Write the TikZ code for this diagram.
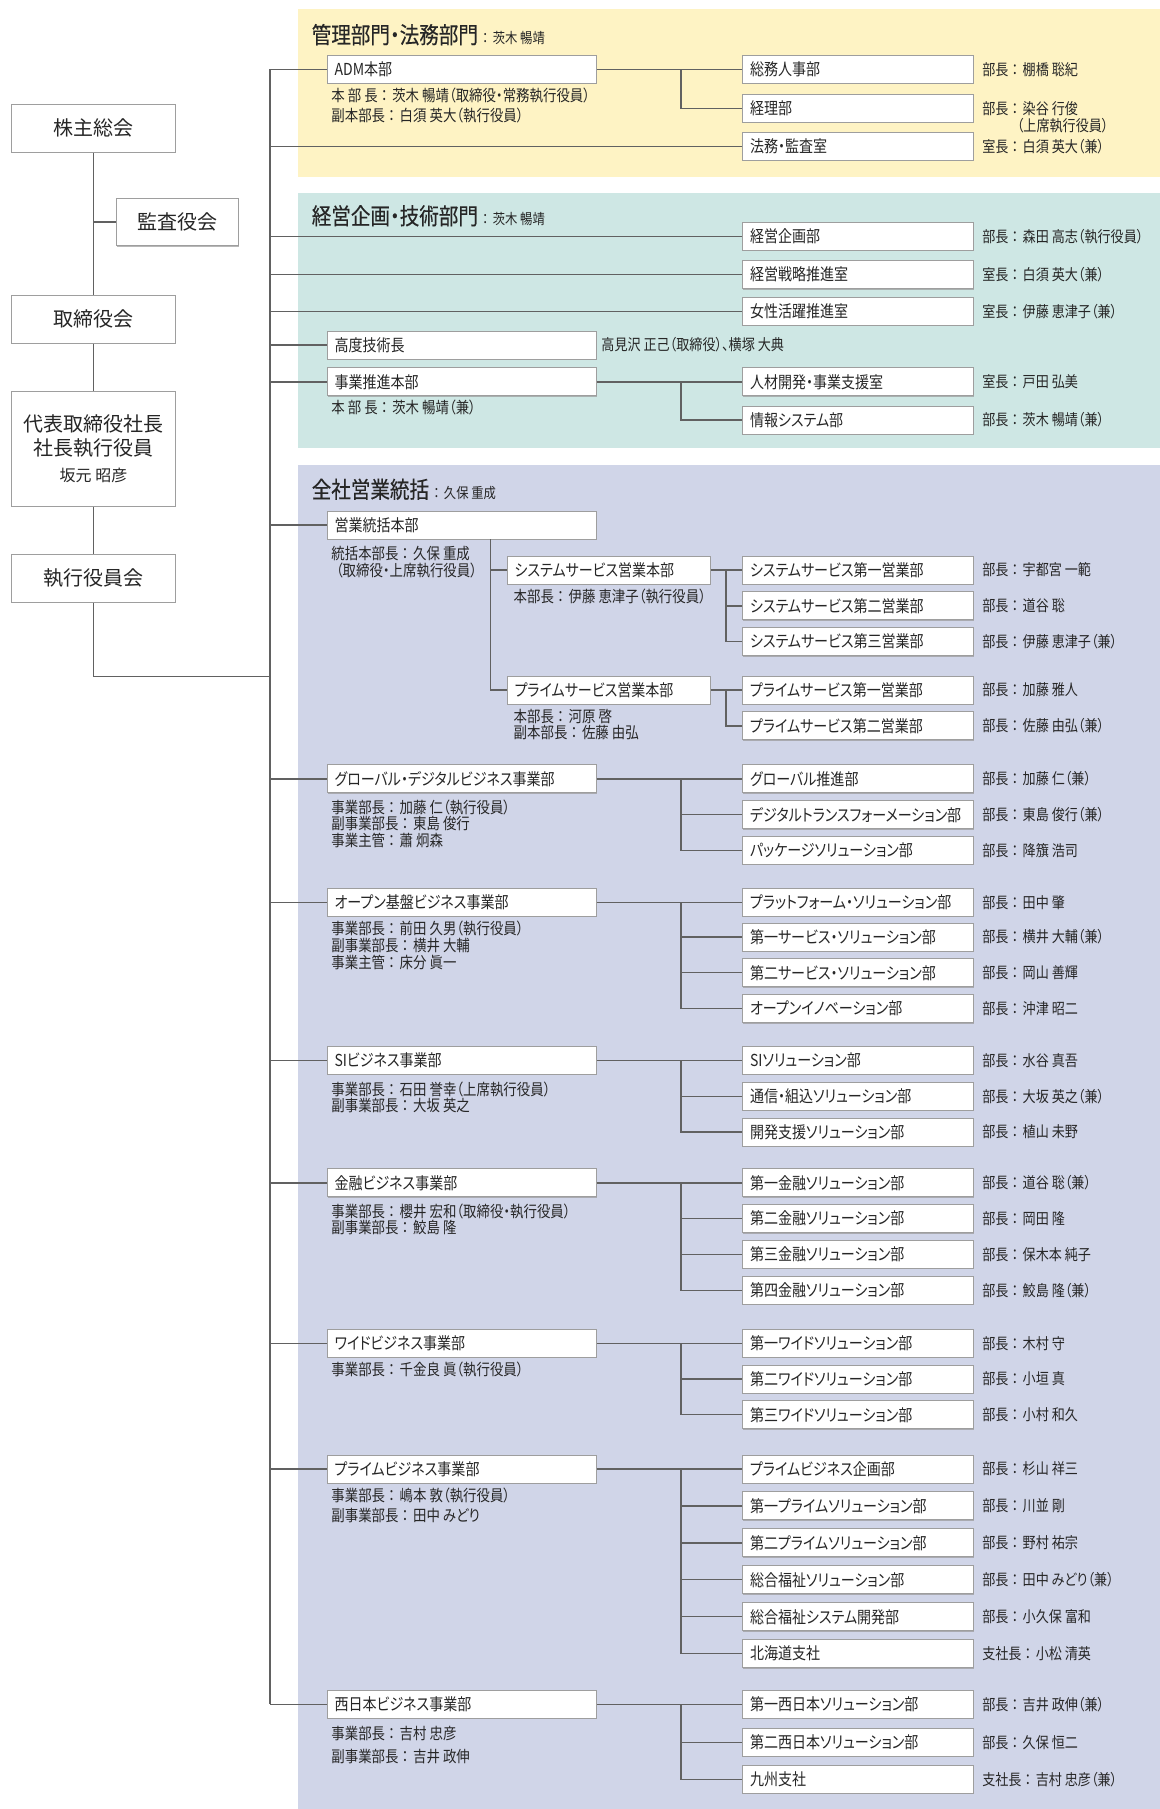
\documentclass[tikz,border=0pt]{standalone}
\usepackage{fontspec}
\newfontfamily\jp[FakeStretch=0.85,RawFeature=+palt]{Noto Sans CJK JP}
\newfontfamily\jpw{Noto Sans CJK JP}
\newfontfamily\jph[FakeStretch=0.85,FakeBold=0.3,RawFeature=+palt]{Noto Sans CJK JP}
\usetikzlibrary{shadows}
\definecolor{bandY}{RGB}{254,243,196}
\definecolor{bandT}{RGB}{206,231,228}
\definecolor{bandL}{RGB}{208,213,232}
\tikzset{
  conn/.style={draw=black!62, line width=1.3bp},
  boxbase/.style={draw=black!38, line width=1bp, fill=white, text=black!85,
    drop shadow={shadow xshift=0.6bp, shadow yshift=-0.9bp, fill=black!40, opacity=0.7}},
  lbox/.style={boxbase, minimum width=164bp, minimum height=48bp, inner sep=0pt, align=center,
    font=\jpw\fontsize{20bp}{24bp}\selectfont},
  mbox/.style={boxbase, anchor=west, text width=254bp, inner xsep=7.5bp, inner ysep=0pt,
    minimum height=28bp, align=left, font=\jp\fontsize{16.5bp}{18bp}\selectfont},
  rbox/.style={mbox, text width=216bp},
  sbox/.style={mbox, text width=188bp},
  lab/.style={anchor=west, inner sep=0pt, text=black!85, font=\jp\fontsize{15.4bp}{17bp}\selectfont},
  sub/.style={anchor=west, inner sep=0pt, text=black!85, font=\jp\fontsize{15.8bp}{17bp}\selectfont},
  hdr/.style={anchor=west, inner sep=0pt, text=black!85, font=\jph\fontsize{23bp}{26bp}\selectfont},
}
\newcommand\co{\kern0.2em：\kern0.3em}
\newcommand\hsm[1]{{\jp\fontsize{14.5bp}{16bp}\selectfont\kern0.3em：\kern0.3em#1}}
% children of a parent #1 (bus coordinate #1b must exist), child boxes at x=643
\newcommand\kids[2]{%
  \foreach \cy/\ct/\cl [count=\ci] in {#2}{%
    \node[rbox] (#1c\ci) at (643,\cy) {\ct};
    \node[lab] (#1l\ci) at (851,\cy) {\cl};
    \ifnum\ci=1 \draw[conn] (#1.east) -- (#1c\ci.west);
    \else \draw[conn] (#1b) |- (#1c\ci.west);
    \fi
  }%
}
\newcommand\bizunit[5]{%
  \node[mbox] (#1) at (283,#2) {#3};
  \draw[conn] (sp |- #1.west) -- (#1.west);
  \coordinate (#1b) at (590,#2);
  \kids{#1}{#4}%
  \foreach \sy/\sx [count=\sj] in {#5}{\node[sub] (#1s\sj) at (287,\sy) {\sx};}%
}
\newcommand\direct[4]{%
  \node[rbox] (#1) at (643,#2) {#3};
  \node[lab] (#1l) at (851,#2) {#4};
  \draw[conn] (sp |- #1.west) -- (#1.west);
}
\begin{document}
\begin{tikzpicture}[x=1.154bp,y=-1.154bp]
\useasboundingbox (0,0) rectangle (1005.2,1567.6);
% bands
\fill[bandY] (258,8) rectangle (1005.2,153);
\fill[bandT] (258,167) rectangle (1005.2,388);
\fill[bandL] (258,403) rectangle (1005.2,1567.6);
% headers
\node[hdr] (h1) at (270,30) {管理部門・法務部門\hsm{茨木 暢靖}};
\node[hdr] (h2) at (270,187) {経営企画・技術部門\hsm{茨木 暢靖}};
\node[hdr] (h3) at (270,424) {全社営業統括\hsm{久保 重成}};
% spine
\coordinate (sp) at (234,60);
\coordinate (spb) at (234,1477);
\draw[conn] (sp) -- (spb);
% left column
\node[lbox] (kabu) at (81,111) {株主総会};
\node[lbox, minimum width=122bp, minimum height=47bp] (kansa) at (154,192.5) {監査役会};
\node[lbox] (tori) at (81,276.5) {取締役会};
\node[lbox, minimum height=115bp] (ceo) at (81,389) {代表取締役社長\\社長執行役員\\[2bp]{\fontsize{16bp}{18bp}\selectfont 坂元 昭彦}};
\node[lbox] (exe) at (81,501) {執行役員会};
\coordinate (jn) at (234,586);
\draw[conn] (kabu.south) -- (tori.north);
\draw[conn] (kansa.west) -- (kansa.west -| kabu.south);
\draw[conn] (tori.south) -- (ceo.north);
\draw[conn] (ceo.south) -- (exe.north);
\draw[conn] (exe.south) |- (jn);
% section 1
\bizunit{adm}{60}{ADM本部}{60/総務人事部/部長\co 棚橋 聡紀, 94/経理部/部長\co 染谷 行俊}{83/本 部 長\co 茨木 暢靖（取締役・常務執行役員）, 100/副本部長\co 白須 英大（執行役員）}
\node[lab] (admx) at (881,109) {（上席執行役員）};
\direct{homu}{127}{法務・監査室}{室長\co 白須 英大（兼）}
% section 2
\direct{kk}{205}{経営企画部}{部長\co 森田 高志（執行役員）}
\direct{ks}{238}{経営戦略推進室}{室長\co 白須 英大（兼）}
\direct{jo}{270}{女性活躍推進室}{室長\co 伊藤 恵津子（兼）}
\node[mbox] (kodo) at (283,299) {高度技術長};
\draw[conn] (sp |- kodo.west) -- (kodo.west);
\node[lab] (kodot) at (521,299) {高見沢 正己（取締役）、横塚 大典};
\bizunit{jk}{331}{事業推進本部}{331/人材開発・事業支援室/室長\co 戸田 弘美, 364/情報システム部/部長\co 茨木 暢靖（兼）}{353/本 部 長\co 茨木 暢靖（兼）}
% section 3
\node[mbox] (eh) at (283,455) {営業統括本部};
\draw[conn] (sp |- eh.west) -- (eh.west);
\node[sub] (ehs1) at (287,480) {統括本部長\co 久保 重成};
\node[sub] (ehs2) at (291,494) {（取締役・上席執行役員）};
\coordinate (ehb) at (425,467.1);
\node[sbox] (ss) at (439,494) {システムサービス営業本部};
\node[sbox] (ps) at (439,598) {プライムサービス営業本部};
\draw[conn] (ehb) |- (ps.west);
\draw[conn] (ehb |- ss.west) -- (ss.west);
\node[sub] (sss1) at (445,517) {本部長\co 伊藤 恵津子（執行役員）};
\node[sub] (pss1) at (445,621) {本部長\co 河原 啓};
\node[sub] (pss2) at (445,635) {副本部長\co 佐藤 由弘};
\coordinate (ssb) at (629,494);
\kids{ss}{494/システムサービス第一営業部/部長\co 宇都宮 一範, 525/システムサービス第二営業部/部長\co 道谷 聡, 556/システムサービス第三営業部/部長\co 伊藤 恵津子（兼）}
\coordinate (psb) at (629,598);
\kids{ps}{598/プライムサービス第一営業部/部長\co 加藤 雅人, 629/プライムサービス第二営業部/部長\co 佐藤 由弘（兼）}
\bizunit{gd}{675}{グローバル・デジタルビジネス事業部}{675/グローバル推進部/部長\co 加藤 仁（兼）, 706/デジタルトランスフォーメーション部/部長\co 東島 俊行（兼）, 737/パッケージソリューション部/部長\co 降籏 浩司}{700/事業部長\co 加藤 仁（執行役員）, 714/副事業部長\co 東島 俊行, 728/事業主管\co 蕭 炯森}
\bizunit{ob}{782}{オープン基盤ビジネス事業部}{782/プラットフォーム・ソリューション部/部長\co 田中 肇, 812/第一サービス・ソリューション部/部長\co 横井 大輔（兼）, 843/第二サービス・ソリューション部/部長\co 岡山 善輝, 874/オープンイノベーション部/部長\co 沖津 昭二}{805/事業部長\co 前田 久男（執行役員）, 819/副事業部長\co 横井 大輔, 834/事業主管\co 床分 眞一}
\bizunit{si}{919}{SIビジネス事業部}{919/SIソリューション部/部長\co 水谷 真吾, 950/通信・組込ソリューション部/部長\co 大坂 英之（兼）, 981/開発支援ソリューション部/部長\co 植山 未野}{944/事業部長\co 石田 誉幸（上席執行役員）, 958/副事業部長\co 大坂 英之}
\bizunit{kn}{1025}{金融ビジネス事業部}{1025/第一金融ソリューション部/部長\co 道谷 聡（兼）, 1056/第二金融ソリューション部/部長\co 岡田 隆, 1087/第三金融ソリューション部/部長\co 保木本 純子, 1118/第四金融ソリューション部/部長\co 鮫島 隆（兼）}{1050/事業部長\co 櫻井 宏和（取締役・執行役員）, 1064/副事業部長\co 鮫島 隆}
\bizunit{wd}{1164}{ワイドビジネス事業部}{1164/第一ワイドソリューション部/部長\co 木村 守, 1195/第二ワイドソリューション部/部長\co 小垣 真, 1226/第三ワイドソリューション部/部長\co 小村 和久}{1187/事業部長\co 千金良 眞（執行役員）}
\bizunit{pb}{1273}{プライムビジネス事業部}{1273/プライムビジネス企画部/部長\co 杉山 祥三, 1305/第一プライムソリューション部/部長\co 川並 剛, 1337/第二プライムソリューション部/部長\co 野村 祐宗, 1369/総合福祉ソリューション部/部長\co 田中 みどり（兼）, 1401/総合福祉システム開発部/部長\co 小久保 富和, 1433/北海道支社/支社長\co 小松 清英}{1296/事業部長\co 嶋本 敦（執行役員）, 1313/副事業部長\co 田中 みどり}
\bizunit{nw}{1477}{西日本ビジネス事業部}{1477/第一西日本ソリューション部/部長\co 吉井 政伸（兼）, 1510/第二西日本ソリューション部/部長\co 久保 恒二, 1542/九州支社/支社長\co 吉村 忠彦（兼）}{1502/事業部長\co 吉村 忠彦, 1522/副事業部長\co 吉井 政伸}
\end{tikzpicture}
\end{document}
